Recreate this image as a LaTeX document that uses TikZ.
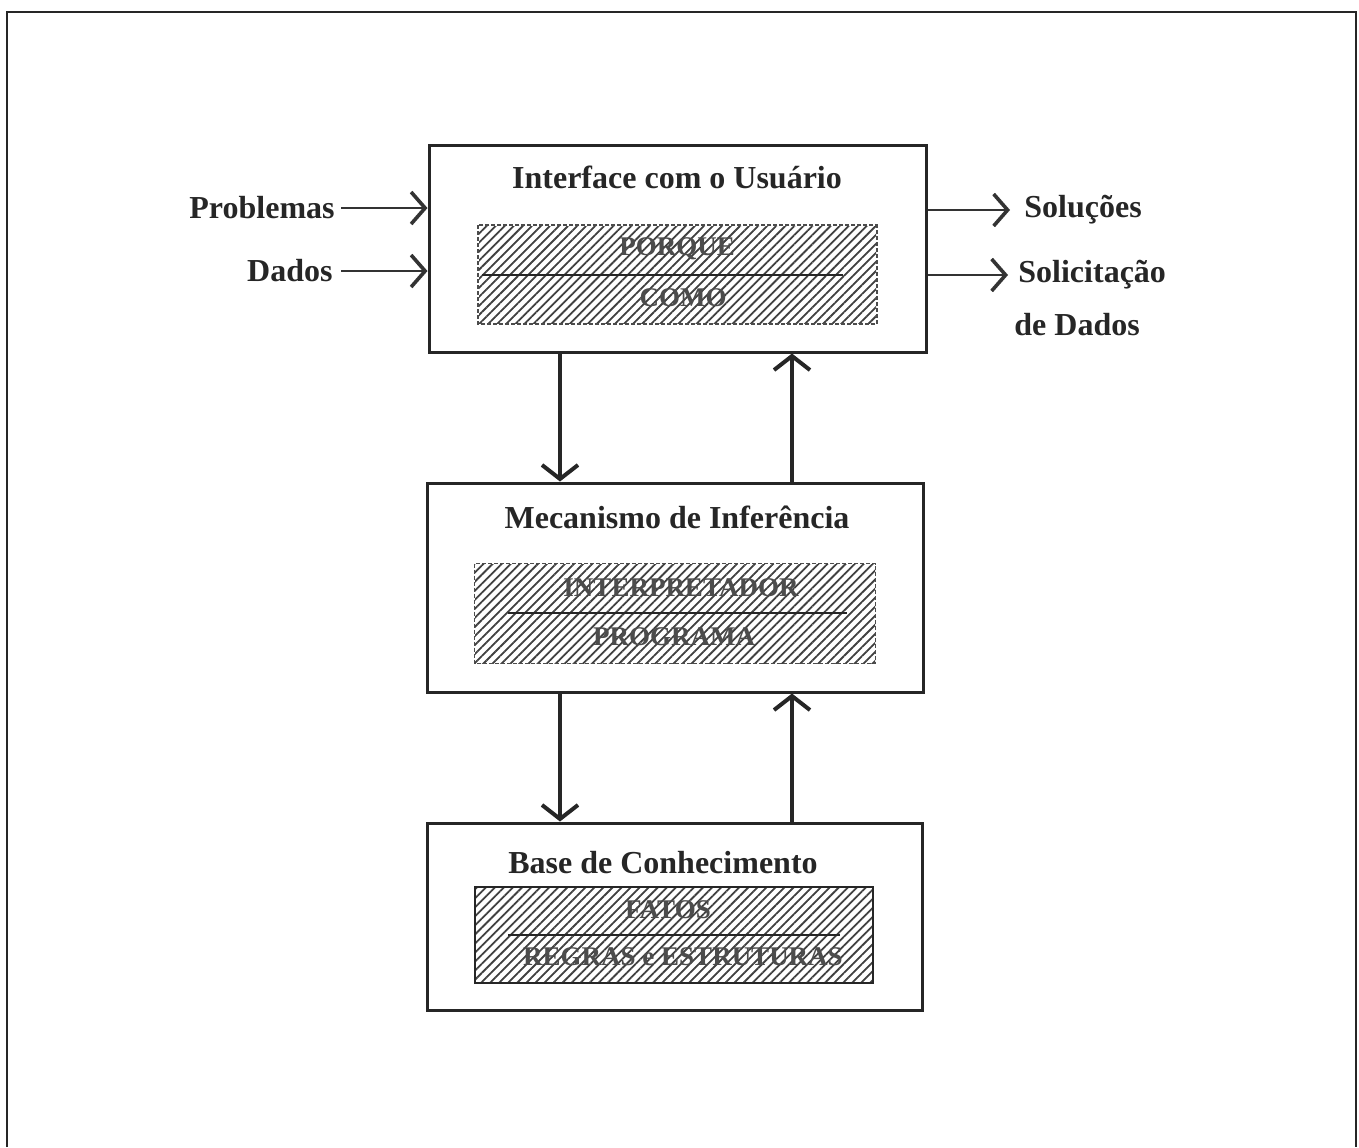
\documentclass[tikz,border=0pt]{standalone}
\usepackage{fontspec}
\setmainfont{Liberation Serif}
\usetikzlibrary{arrows.meta,patterns.meta}

\begin{document}
\begin{tikzpicture}[x=0.5pt,y=-0.5pt,
  font=\bfseries\fontsize{16}{19}\selectfont,
  block/.style={draw=black!85,line width=1.5pt,rectangle,inner sep=0pt},
  hatchbox/.style={rectangle,inner sep=0pt,
    pattern={Lines[angle=45,distance=3.2pt,line width=0.9pt]},pattern color=black!75},
  dashedge/.style={draw=black!70,line width=0.7pt,dash pattern=on 2pt off 1pt},
  solidedge/.style={draw=black!85,line width=1pt},
  divider/.style={draw=black!85,line width=1.2pt},
  inlabel/.style={font=\bfseries\fontsize{13.5}{16}\selectfont,text=black!70},
  outtext/.style={text=black!85},
  flow/.style={draw=black!85,line width=2pt,
    -{Straight Barb[length=7pt,width=18pt,line width=2pt]}},
  sidearrow/.style={draw=black!80,line width=1pt,
    -{Straight Barb[length=7pt,width=16pt,line width=1.8pt]}}
]
\useasboundingbox (0,0) rectangle (1359,1147);

% page frame, open at the bottom
\draw[line width=1.4pt,black!85] (7,1147) -- (7,12) -- (1356,12) -- (1356,1147);

% user interface
\node[block,minimum width=248.5pt,minimum height=103.5pt] (b1) at (677.5,248.5) {};
\node[outtext] (t1) at (677,177) {Interface com o Usuário};
\node[hatchbox,minimum width=198.5pt,minimum height=48.5pt] (h1) at (677.5,274.5) {};
\draw[dashedge] (h1.north west) rectangle (h1.south east);
\draw[divider] (482,275) -- (843,275);
\node[inlabel] (porque) at (677,249) {PORQUE};
\node[inlabel] (como) at (683,298) {COMO};

% inference engine
\node[block,minimum width=248pt,minimum height=104.5pt] (b2) at (675,587.5) {};
\node[outtext] (t2) at (677,517) {Mecanismo de Inferência};
\node[hatchbox,minimum width=200pt,minimum height=49.5pt] (h2) at (675,613.5) {};
\draw[dashedge] (h2.north west) rectangle (h2.south east);
\draw[divider] (508,613) -- (847,613);
\node[inlabel] (interp) at (681,588) {INTERPRETADOR};
\node[inlabel] (prog) at (674,637) {PROGRAMA};

% knowledge base
\node[block,minimum width=247.5pt,minimum height=93.5pt] (b3) at (674.5,916.5) {};
\node[outtext] (t3) at (663,863) {Base de Conhecimento};
\node[hatchbox,minimum width=199pt,minimum height=48pt] (h3) at (674,935) {};
\draw[solidedge] (h3.north west) rectangle (h3.south east);
\draw[divider] (508,935) -- (840,935);
\node[inlabel] (fatos) at (668,910) {FATOS};
\node[inlabel] (regras) at (683,957) {REGRAS e ESTRUTURAS};

% flow between the layers
\coordinate (xa) at (560,0);
\coordinate (xb) at (792,0);
\draw[flow] (b1.south -| xa) -- (b2.north -| xa);
\draw[flow] (b2.north -| xb) -- (b1.south -| xb);
\draw[flow] (b2.south -| xa) -- (b3.north -| xa);
\draw[flow] (b3.north -| xb) -- (b2.south -| xb);

% inputs
\node[outtext,anchor=east,inner xsep=3pt] (prob) at (341,208) {Problemas};
\node[outtext,anchor=east,inner xsep=4pt] (dados) at (341,271) {Dados};
\draw[sidearrow] (prob.east) -- (prob.east -| b1.west);
\draw[sidearrow] (dados.east) -- (dados.east -| b1.west);

% outputs
\node[outtext,anchor=west,inner xsep=7pt] (sol) at (1010,210) {Soluções};
\node[outtext,anchor=west,inner xsep=5pt] (solic) at (1008,275) {Solicitação};
\node[outtext,anchor=west,inner xsep=2pt] (dedados) at (1010,325) {de Dados};
\draw[sidearrow] (sol.west -| b1.east) -- (sol.west);
\draw[sidearrow] (solic.west -| b1.east) -- (solic.west);
\end{tikzpicture}
\end{document}
